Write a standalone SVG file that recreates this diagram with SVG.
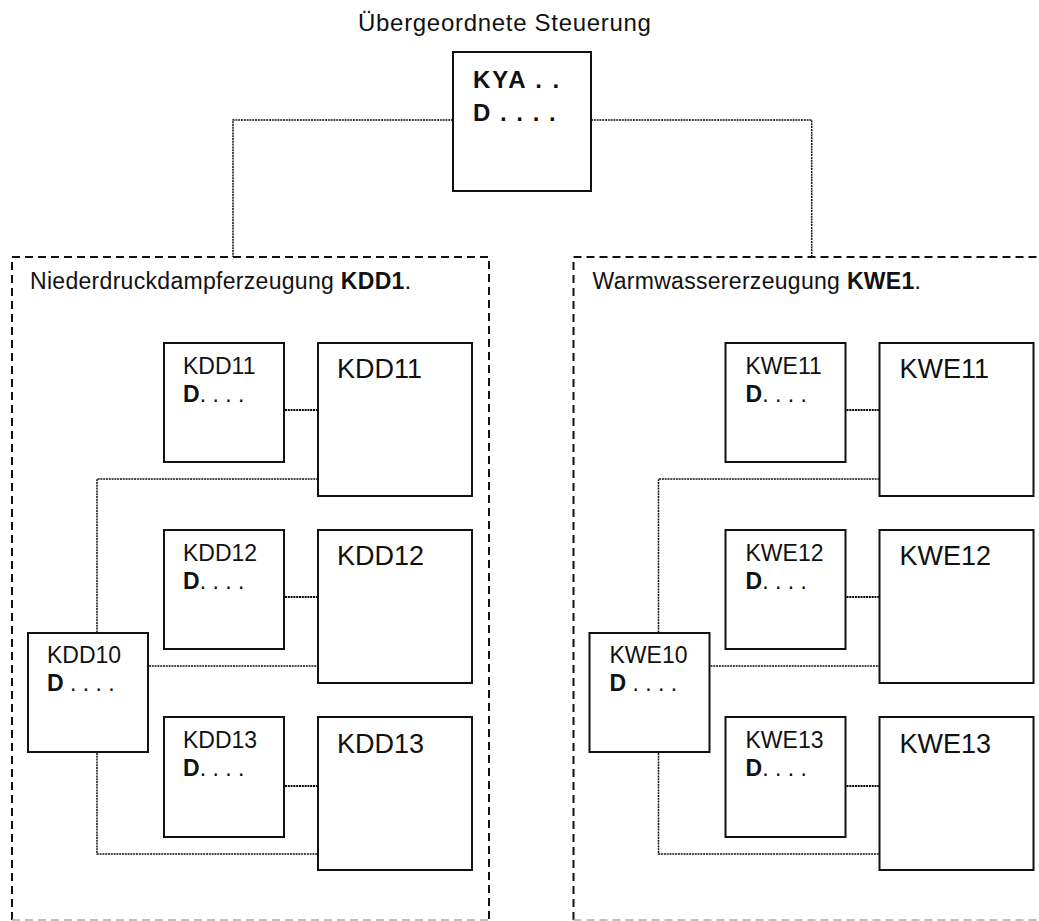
<svg xmlns="http://www.w3.org/2000/svg" width="1039" height="921" viewBox="0 0 1039 921">
<style>
text{font-family:"Liberation Sans",Arial,sans-serif;fill:#111}
.box{fill:#fff;stroke:#111;stroke-width:2}
.cont{fill:none;stroke:#111;stroke-width:2;stroke-dasharray:8 5}
.contb{fill:none;stroke:#aaa;stroke-width:1.5;stroke-dasharray:8 5}
.dot{fill:none;stroke:#111;stroke-width:1.5;stroke-dasharray:2 0.8}
.dots{fill:none;stroke:#000;stroke-width:2.2;stroke-dasharray:2 0.8}
.sm{font-size:23px}
.bg{font-size:27px}
.ct{font-size:23px;letter-spacing:0.3px}
</style>
<rect width="1039" height="921" fill="#fff"/>

<g id="connectors">
  <path class="dot" d="M453,120 H233 V257"/>
  <path class="dot" d="M591,120 H811.7 V257"/>
  <g id="conn-kdd">
    <path class="dots" d="M285,410 H318"/>
    <path class="dots" d="M285,597 H318"/>
    <path class="dots" d="M285,786 H318"/>
    <path class="dot" d="M318,479 H97 V633"/>
    <path class="dot" d="M149,666 H318"/>
    <path class="dot" d="M97,753 V854 H318"/>
  </g>
  <g id="conn-kwe" transform="translate(561.5,0)">
    <path class="dots" d="M285,410 H318"/>
    <path class="dots" d="M285,597 H318"/>
    <path class="dots" d="M285,786 H318"/>
    <path class="dot" d="M318,479 H97 V633"/>
    <path class="dot" d="M149,666 H318"/>
    <path class="dot" d="M97,753 V854 H318"/>
  </g>
</g>

<g id="top">
  <text x="358" y="31" font-size="24" letter-spacing="0.7">Übergeordnete Steuerung</text>
  <rect class="box" x="453" y="52" width="138" height="139"/>
  <text x="473" y="88" font-size="24" font-weight="bold" letter-spacing="2">KYA . .</text>
  <text x="473" y="121" font-size="24" font-weight="bold" letter-spacing="1.5">D . . . .</text>
</g>

<g id="section-kdd">
  <path class="cont" d="M12,920 V257 H489 V920"/>
  <path class="contb" d="M12,920 H489"/>
  <text class="ct" x="30" y="289">Niederdruckdampferzeugung <tspan font-weight="bold">KDD1</tspan>.</text>
  <g id="kdd11-ctrl"><rect class="box" x="164" y="343" width="120" height="119"/><text class="sm" x="183" y="374">KDD11</text><text class="sm" x="183" y="402"><tspan font-weight="bold">D</tspan>. . . .</text></g>
  <g id="kdd11"><rect class="box" x="318" y="343" width="154" height="153"/><text class="bg" x="337" y="378">KDD11</text></g>
  <g id="kdd12-ctrl"><rect class="box" x="164" y="530" width="120" height="119"/><text class="sm" x="183" y="561">KDD12</text><text class="sm" x="183" y="589"><tspan font-weight="bold">D</tspan>. . . .</text></g>
  <g id="kdd12"><rect class="box" x="318" y="530" width="154" height="153"/><text class="bg" x="337" y="565">KDD12</text></g>
  <g id="kdd13-ctrl"><rect class="box" x="164" y="717" width="120" height="120"/><text class="sm" x="183" y="748">KDD13</text><text class="sm" x="183" y="776"><tspan font-weight="bold">D</tspan>. . . .</text></g>
  <g id="kdd13"><rect class="box" x="318" y="717" width="154" height="153"/><text class="bg" x="337" y="753">KDD13</text></g>
  <g id="kdd10"><rect class="box" x="28" y="633" width="120" height="119"/><text class="sm" x="47" y="663">KDD10</text><text class="sm" x="47" y="691"><tspan font-weight="bold">D</tspan> . . . .</text></g>
</g>

<g id="section-kwe" transform="translate(561.5,0)">
  <path class="cont" d="M12,920 V257 H489 V920"/>
  <path class="contb" d="M12,920 H489"/>
  <text class="ct" x="31" y="289">Warmwassererzeugung <tspan font-weight="bold">KWE1</tspan>.</text>
  <g id="kwe11-ctrl"><rect class="box" x="164" y="343" width="120" height="119"/><text class="sm" x="184" y="374">KWE11</text><text class="sm" x="184" y="402"><tspan font-weight="bold">D</tspan>. . . .</text></g>
  <g id="kwe11"><rect class="box" x="318" y="343" width="154" height="153"/><text class="bg" x="338" y="378">KWE11</text></g>
  <g id="kwe12-ctrl"><rect class="box" x="164" y="530" width="120" height="119"/><text class="sm" x="184" y="561">KWE12</text><text class="sm" x="184" y="589"><tspan font-weight="bold">D</tspan>. . . .</text></g>
  <g id="kwe12"><rect class="box" x="318" y="530" width="154" height="153"/><text class="bg" x="338" y="565">KWE12</text></g>
  <g id="kwe13-ctrl"><rect class="box" x="164" y="717" width="120" height="120"/><text class="sm" x="184" y="748">KWE13</text><text class="sm" x="184" y="776"><tspan font-weight="bold">D</tspan>. . . .</text></g>
  <g id="kwe13"><rect class="box" x="318" y="717" width="154" height="153"/><text class="bg" x="338" y="753">KWE13</text></g>
  <g id="kwe10"><rect class="box" x="28" y="633" width="120" height="119"/><text class="sm" x="48" y="663">KWE10</text><text class="sm" x="48" y="691"><tspan font-weight="bold">D</tspan> . . . .</text></g>
</g>
</svg>
